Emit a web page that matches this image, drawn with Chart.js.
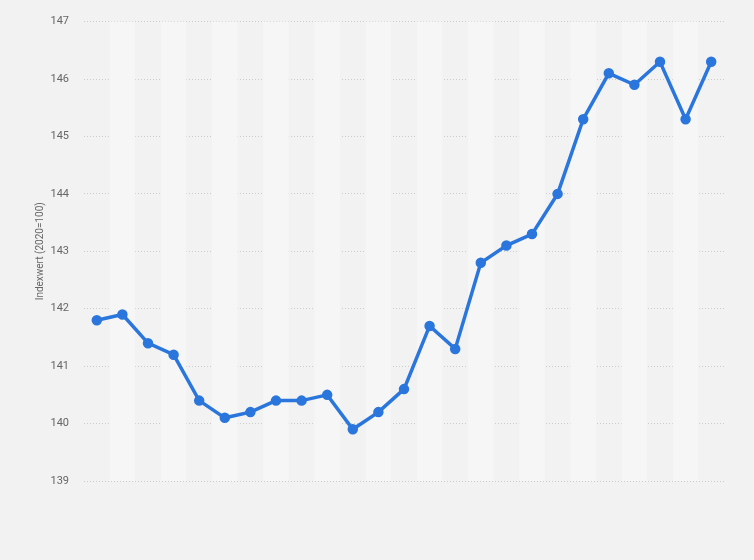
<!DOCTYPE html>
<html lang="de">
<head>
  <meta charset="UTF-8">
  <title>Indexwert (2020=100)</title>
  <style>
    body {
      margin: 0;
      background-color: #f2f2f2;
      font-family: Roboto, Arial, sans-serif;
    }

    .wrap {
      width: 754px;
      height: 560px;
    }
  </style>
</head>
<body>
  <div class="wrap">
    <canvas id="indexChart" width="754" height="560"></canvas>
  </div>

  <script src="https://cdn.jsdelivr.net/npm/chart.js"></script>
  <script>
    const months = [
      'Jan 22', 'Feb 22', 'Mär 22', 'Apr 22', 'Mai 22', 'Jun 22', 'Jul 22', 'Aug 22', 'Sep 22', 'Okt 22', 'Nov 22', 'Dez 22',
      'Jan 23', 'Feb 23', 'Mär 23', 'Apr 23', 'Mai 23', 'Jun 23', 'Jul 23', 'Aug 23', 'Sep 23', 'Okt 23', 'Nov 23', 'Dez 23',
      'Jan 24'
    ];
    const indexValues = [
      141.8, 141.9, 141.4, 141.2, 140.4, 140.1, 140.2, 140.4, 140.4, 140.5, 139.9, 140.2,
      140.6, 141.7, 141.3, 142.8, 143.1, 143.3, 144.0, 145.3, 146.1, 145.9, 146.3, 145.3,
      146.3
    ];
    const yTicks = [139, 140, 141, 142, 143, 144, 145, 146, 147];

    // light columns behind every second category
    const stripes = {
      id: 'stripes',
      beforeDatasetsDraw(chart) {
        const { ctx, chartArea, scales } = chart;
        const x = scales.x;
        const step = x.getPixelForValue(1) - x.getPixelForValue(0);
        ctx.save();
        ctx.fillStyle = '#f6f6f6';
        for (let i = 1; i < months.length; i += 2) {
          const cx = x.getPixelForValue(i);
          ctx.fillRect(cx - step / 2, chartArea.top, step, chartArea.bottom - chartArea.top);
        }
        ctx.restore();
      }
    };

    new Chart(document.getElementById('indexChart'), {
      type: 'line',
      data: {
        labels: months,
        datasets: [{
          data: indexValues,
          borderColor: '#2a76dd',
          backgroundColor: '#2a76dd',
          borderWidth: 3.5,
          pointRadius: 3.5,
          pointHoverRadius: 4.5,
          tension: 0
        }]
      },
      options: {
        responsive: false,
        animation: false,
        layout: { padding: { top: 20, right: 30, bottom: 79, left: 0 } },
        plugins: {
          legend: { display: false },
          tooltip: { enabled: false }
        },
        scales: {
          x: {
            display: false,
            offset: true
          },
          y: {
            min: yTicks[0],
            max: yTicks[yTicks.length - 1],
            afterBuildTicks(axis) {
              axis.ticks = yTicks.map(v => ({ value: v }));
            },
            afterFit(axis) {
              axis.width = 84;
            },
            border: { display: false, dash: [1, 2] },
            grid: {
              color: '#cccccc',
              drawTicks: false,
              borderDash: [1, 2]
            },
            ticks: {
              color: '#666666',
              padding: 15,
              font: { size: 11, family: 'Roboto, Arial, sans-serif' }
            },
            title: {
              display: true,
              text: 'Indexwert (2020=100)',
              color: '#666666',
              padding: { top: 34, bottom: 0 },
              font: { size: 10, family: 'Roboto, Arial, sans-serif' }
            }
          }
        }
      },
      plugins: [stripes]
    });
  </script>
</body>
</html>
